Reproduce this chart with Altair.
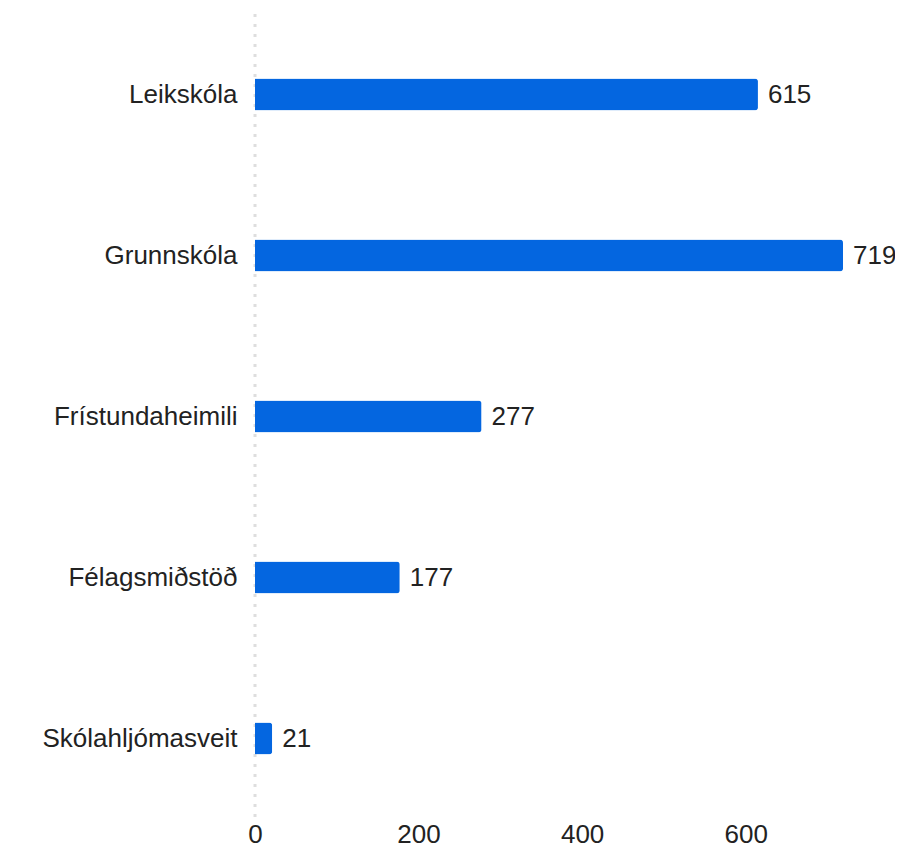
import altair as alt
import pandas as pd

categories = ["Leikskóla", "Grunnskóla", "Frístundaheimili", "Félagsmiðstöð", "Skólahljómasveit"]
values = [615, 719, 277, 177, 21]

df = pd.DataFrame({"cat": categories, "val": values})

FONT = "Liberation Sans"
FS = 26
x = alt.X("val:Q", scale=alt.Scale(domain=[0, 719], nice=False, zero=True),
          axis=alt.Axis(values=[0, 200, 400, 600], title=None, domain=False, ticks=False,
                        grid=False, labelFont=FONT, labelFontSize=FS, labelColor="#222222",
                        labelPadding=2, labelFlush=False))
y = alt.Y("cat:N", sort=categories,
          axis=alt.Axis(title=None, domain=False, ticks=False, grid=False, labelFont=FONT,
                        labelFontSize=FS, labelColor="#222222", labelPadding=18, labelLimit=0))

bars = alt.Chart(df).mark_bar(size=32, color="#0466e0", cornerRadiusEnd=3).encode(x=x, y=y)
labels = alt.Chart(df).mark_text(align="left", baseline="middle", dx=10, font=FONT,
                                 fontSize=FS, color="#222222").encode(
    x="val:Q", y=alt.Y("cat:N", sort=categories), text="val:Q")
zero = alt.Chart(pd.DataFrame({"z": [0]})).mark_rule(
    color="#dedede", strokeWidth=3, strokeDash=[3, 7]).encode(x="z:Q")

chart = alt.layer(zero, bars, labels).properties(
    width=588, height=805,
    autosize=alt.AutoSizeParams(type="none"),
    padding={"left": 247, "top": 6, "right": 52, "bottom": 28},
).configure_view(stroke=None).configure_scale(bandPaddingInner=0.8)

chart.save("out.html", embed_options={"renderer": "svg", "actions": False})
